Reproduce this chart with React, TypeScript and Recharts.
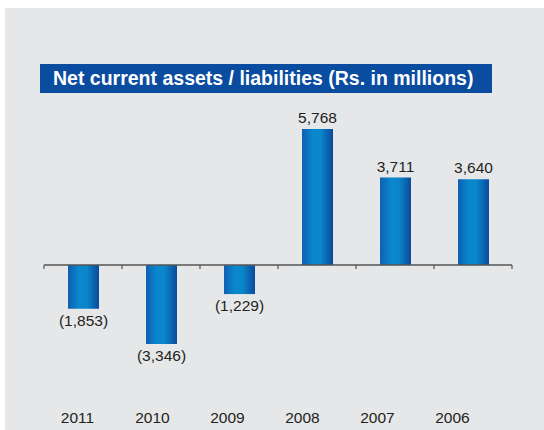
import { BarChart, Bar, XAxis, YAxis, ReferenceLine, LabelList } from 'recharts';

const years = ['2011', '2010', '2009', '2008', '2007', '2006'];
const netCurrent = [-1853, -3346, -1229, 5768, 3711, 3640];

const data = years.map((year, i) => ({ year, value: netCurrent[i] }));

const FONT = '"Liberation Sans", Arial, sans-serif';

const formatValue = (v: number) =>
  v < 0 ? `(${Math.abs(v).toLocaleString('en-US')})` : v.toLocaleString('en-US');

// zero line with small ticks hanging down at the category boundaries
function ZeroAxis(props: any) {
  const { x1, x2, y1 } = props;
  const step = (x2 - x1) / years.length;
  const ticks = [];
  for (let i = 0; i <= years.length; i++) {
    const x = x1 + step * i;
    ticks.push(<line key={i} x1={x} x2={x} y1={y1} y2={y1 + 4} stroke="#555" strokeWidth={1.2} />);
  }
  return (
    <g>
      <line x1={x1} x2={x2} y1={y1} y2={y1} stroke="#555" strokeWidth={1.5} />
      {ticks}
    </g>
  );
}

export default function App() {
  return (
    <div
      style={{
        position: 'absolute',
        left: 5,
        top: 8,
        width: 539,
        height: 422,
        background: '#e6e7e9',
        fontFamily: FONT,
      }}
    >
      <div
        style={{
          position: 'absolute',
          left: 35,
          top: 56,
          width: 452,
          height: 29,
          background: '#0a4ca0',
          color: '#fff',
          fontWeight: 'bold',
          fontSize: 19.5,
          lineHeight: '29px',
          paddingLeft: 13,
          boxSizing: 'border-box',
          whiteSpace: 'nowrap',
        }}
      >
        Net current assets / liabilities (Rs. in millions)
      </div>
      <BarChart width={539} height={422} data={data} margin={{ top: 92, right: 32, bottom: 0, left: 39 }}>
        <defs>
          <linearGradient id="barGrad" x1="0" y1="0" x2="1" y2="0">
            <stop offset="0%" stopColor="#0e5fb2" />
            <stop offset="35%" stopColor="#0a88cd" />
            <stop offset="60%" stopColor="#0a86cb" />
            <stop offset="100%" stopColor="#0b4a9c" />
          </linearGradient>
        </defs>
        <XAxis
          xAxisId="years"
          dataKey="year"
          height={47}
          axisLine={false}
          tickLine={false}
          tickMargin={23}
          padding={{ left: -4, right: 22 }}
          tick={{ fontSize: 15.5, fill: '#231f20', fontFamily: FONT }}
          interval={0}
        />
        <XAxis dataKey="year" hide height={0} />
        <YAxis hide domain={[-5000, 7000]} />
        <Bar dataKey="value" barSize={31} fill="url(#barGrad)" isAnimationActive={false}>
          <LabelList
            dataKey="value"
            position="top"
            offset={6}
            formatter={(v: any) => formatValue(Number(v))}
            style={{ fontSize: 15.5, fill: '#231f20', fontFamily: FONT }}
          />
        </Bar>
        <ReferenceLine y={0} shape={ZeroAxis} />
      </BarChart>
    </div>
  );
}
